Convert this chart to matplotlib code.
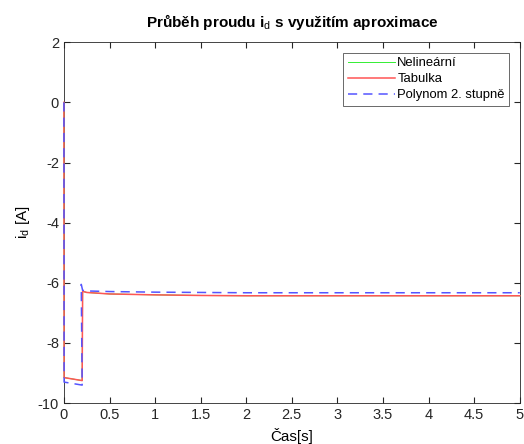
import matplotlib.pyplot as plt
import numpy as np

plt.rcParams['font.family'] = ['Liberation Sans', 'DejaVu Sans']
plt.rcParams['mathtext.fontset'] = 'custom'
plt.rcParams['mathtext.rm'] = 'Liberation Sans'
plt.rcParams['mathtext.it'] = 'Liberation Sans'
plt.rcParams['mathtext.bf'] = 'Liberation Sans:bold'
plt.rcParams['axes.unicode_minus'] = False

# time [s] and current i_d [A]
t_nl = [0, 0.002, 0.2, 0.205, 0.25, 0.5, 1.0, 1.5, 2.0, 3.0, 4.0, 5.0]
id_nl = [0, -9.15, -9.25, -6.28, -6.32, -6.37, -6.40, -6.42, -6.43, -6.43, -6.43, -6.43]

t_tab = [0, 0.002, 0.2, 0.205, 0.25, 0.5, 1.0, 1.5, 2.0, 3.0, 4.0, 5.0]
id_tab = [0, -9.15, -9.25, -6.28, -6.32, -6.37, -6.40, -6.42, -6.43, -6.43, -6.43, -6.43]

t_pol = [0, 0.002, 0.2, 0.19, 0.205, 0.25, 0.5, 1.0, 1.5, 2.0, 3.0, 4.0, 5.0]
id_pol = [0, -9.3, -9.4, -6.05, -6.25, -6.27, -6.29, -6.31, -6.32, -6.33, -6.33, -6.33, -6.33]

fig = plt.figure(figsize=(5.24, 4.44), dpi=100)
ax = fig.add_axes([0.122, 0.092, 0.870, 0.813])

ax.plot(t_nl, id_nl, color='#33ee33', lw=0.7, label='Nelineární', clip_on=False, zorder=3)
ax.plot(t_tab, id_tab, color='#ff5555', lw=1.1, label='Tabulka', clip_on=False, zorder=4)
ax.plot(t_pol, id_pol, color='#5555ff', lw=1.1, ls=(0, (6, 4)),
        label='Polynom 2. stupně', clip_on=False, zorder=5)

ax.set_xlim(0, 5)
ax.set_ylim(-10, 2)
ax.set_xticks(np.arange(0, 5.01, 0.5))
ax.set_xticklabels(['0', '0.5', '1', '1.5', '2', '2.5', '3', '3.5', '4', '4.5', '5'])
ax.set_yticks(np.arange(-10, 2.1, 2))
ax.tick_params(direction='in', length=4, labelsize=10.5, colors='#262626',
               top=True, right=True)
for s in ax.spines.values():
    s.set_color('#262626')
    s.set_linewidth(0.6)
    s.set_zorder(2)

ax.set_title('Průběh proudu i$_d$ s využitím aproximace', fontsize=11,
             fontweight='bold', pad=11)
ax.set_xlabel('Čas[s]', fontsize=11, labelpad=4)
ax.set_ylabel('i$_d$ [A]', fontsize=11)

leg = ax.legend(loc='upper right', fontsize=9.4, frameon=True, fancybox=False,
                edgecolor='#262626', handlelength=3.6, handletextpad=0.2,
                borderpad=0.35, labelspacing=0.3, borderaxespad=0.8)
leg.get_frame().set_linewidth(0.6)
leg.set_zorder(6)

fig.savefig('out.png', dpi=100)
